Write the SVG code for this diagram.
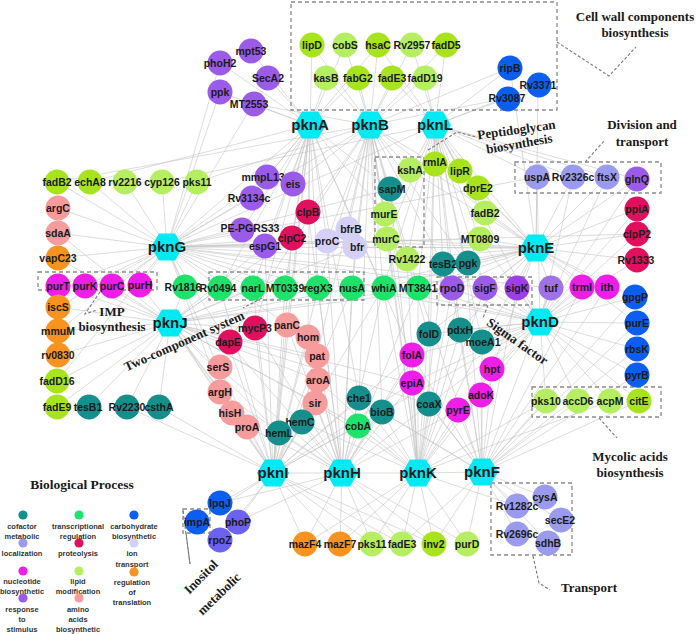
<svg xmlns="http://www.w3.org/2000/svg" width="696" height="634" viewBox="0 0 696 634">
<style>
.e{fill:none;stroke:#c4c4c4;stroke-width:0.7;stroke-opacity:0.85}
.box{fill:none;stroke:#8a8a8a;stroke-width:1.3;stroke-dasharray:4 3}
.ld{fill:none;stroke:#777;stroke-width:1.1;stroke-dasharray:3 2}
.t{font-family:"Liberation Sans",Arial,sans-serif;font-weight:bold;font-size:10.5px;fill:#1a1a1a;text-anchor:middle}
.h{font-family:"Liberation Sans",Arial,sans-serif;font-weight:bold;font-size:15px;fill:#1a1a1a;text-anchor:middle}
.lg{font-family:"Liberation Sans",Arial,sans-serif;font-weight:bold;font-size:7.5px;fill:#333;text-anchor:middle}
.an{font-family:"Liberation Serif","Times New Roman",serif;font-weight:bold;font-size:13px;fill:#1a1a1a;text-anchor:middle}
.cof{fill:#148f8c}.tr{fill:#1de36b}.carb{fill:#0b5ef0}.loc{fill:#9a9aee}.prot{fill:#e0105e}.ion{fill:#d4d0f8}
.nuc{fill:#ee1ee8}.lipA{fill:#a8e41e}.lipB{fill:#b6ee62}.rt{fill:#f7931e}.resp{fill:#9a5ce8}.resp2{fill:#9d3ee8}.respL{fill:#a072e8}.aa{fill:#f79c9c}.vio{fill:#6c62f0}
</style>
<defs>
<polygon id="hex" points="-16,0 -8,-13.5 8,-13.5 16,0 8,13.5 -8,13.5" fill="#00eaf4"/>
</defs>

<g id="connectors">
<path class="e" d="M310 125L220 63M310 125L251 51M310 125L220 92M310 125L268 78M310 125L253 104M310 125L312 45M310 125L345 45M310 125L326 78M310 125L358 78M310 125L378 45M310 125L267 177M310 125L293 184M310 125L250 198M310 125L308 212M310 125L242 230M310 125L265 246M310 125L292 238M310 125L327 241M310 125L253 288M310 125L285 288M310 125L318 288M310 125L390 189M310 125L385 214M310 125L287 325M310 125L255 328M310 125L308 337M310 125L359 398M310 125L167 247M310 125L273 473M310 125L90 182M310 125L220 288M310 125L412 355M310 125L383 288"/>
<path class="e" d="M370 125L312 45M370 125L345 45M370 125L378 45M370 125L412 45M370 125L446 45M370 125L326 78M370 125L358 78M370 125L392 78M370 125L425 78M370 125L410 170M370 125L390 189M370 125L385 214M370 125L387 239M370 125L435 164M370 125L466 263M370 125L443 264M370 125L383 288M370 125L418 288M370 125L308 212M370 125L327 241M370 125L355 247M370 125L348 229M370 125L293 184M370 125L510 68M370 125L508 98M370 125L167 247M370 125L536 248M370 125L352 288M370 125L318 288M370 125L228 342M370 125L317 356M370 125L359 398M370 125L382 412M370 125L428 334M370 125L412 383M370 125L57 182M370 125L197 182M370 125L253 104"/>
<path class="e" d="M435 125L446 45M435 125L412 45M435 125L425 78M435 125L392 78M435 125L378 45M435 125L510 68M435 125L538 85M435 125L508 98M435 125L435 164M435 125L460 171M435 125L478 188M435 125L485 213M435 125L480 239M435 125L410 170M435 125L537 177M435 125L573 177M435 125L466 263M435 125L485 288M435 125L452 288M435 125L443 264M435 125L407 259M435 125L387 239M435 125L383 288M435 125L536 248M435 125L540 322M435 125L428 334M435 125L460 330M435 125L482 342M435 125L429 404M435 125L418 288M435 125L637 179M435 125L607 177M435 125L162 182M435 125L167 247"/>
<path class="e" d="M167 247L57 182M167 247L90 182M167 247L125 182M167 247L162 182M167 247L197 182M167 247L58 208M167 247L58 233M167 247L58 258M167 247L58 286M167 247L85 286M167 247L112 286M167 247L140 285M167 247L185 287M167 247L220 288M167 247L58 307M167 247L250 198M167 247L242 230M167 247L265 246M167 247L267 177M167 247L292 238M167 247L327 241M167 247L253 288M167 247L285 288M167 247L220 63M167 247L220 92M167 247L253 104M167 247L218 367M167 247L228 342M167 247L220 392M167 247L383 288M167 247L390 189M167 247L407 259M167 247L485 288M167 247L551 288M167 247L536 248M167 247L637 234M167 247L537 177M167 247L480 239M167 247L58 331M167 247L57 381M167 247L318 288M167 247L308 337"/>
<path class="e" d="M170 323L58 331M170 323L58 355M170 323L57 381M170 323L57 407M170 323L88 407M170 323L127 407M170 323L159 407M170 323L58 307M170 323L58 286M170 323L85 286M170 323L112 286M170 323L140 285M170 323L185 287M170 323L220 288M170 323L58 258M170 323L58 233M170 323L253 288M170 323L228 342M170 323L218 367M170 323L220 392M170 323L230 413M170 323L255 328M170 323L247 427M170 323L279 433M170 323L318 288M170 323L352 288M170 323L315 403M170 323L317 356M170 323L318 380M170 323L265 246M170 323L292 238M170 323L355 247M170 323L418 288M170 323L452 288M170 323L412 383M170 323L273 473M170 323L358 426M170 323L429 404"/>
<path class="e" d="M536 248L537 177M536 248L573 177M536 248L607 177M536 248L637 179M536 248L637 209M536 248L637 234M536 248L637 260M536 248L478 188M536 248L485 213M536 248L480 239M536 248L466 263M536 248L460 171M536 248L551 288M536 248L517 288M536 248L485 288M536 248L582 287M536 248L607 287M536 248L452 288M536 248L443 264M536 248L418 288M536 248L383 288M536 248L635 297M536 248L407 259M536 248L387 239M536 248L428 334M536 248L460 330M536 248L482 342M536 248L492 369M536 248L538 85M536 248L510 68M536 248L327 241M536 248L355 247M536 248L352 288M536 248L637 323M536 248L410 170"/>
<path class="e" d="M540 322L635 297M540 322L637 323M540 322L637 349M540 322L637 375M540 322L546 401M540 322L578 401M540 322L610 401M540 322L639 401M540 322L551 288M540 322L582 287M540 322L607 287M540 322L517 288M540 322L485 288M540 322L452 288M540 322L637 260M540 322L637 234M540 322L637 209M540 322L482 342M540 322L492 369M540 322L481 395M540 322L460 330M540 322L428 334M540 322L412 383M540 322L458 410M540 322L537 177M540 322L573 177M540 322L607 177M540 322L637 179M540 322L418 288M540 322L429 404M540 322L382 412M540 322L383 288M540 322L352 288M540 322L412 355M540 322L480 239M540 322L466 263"/>
<path class="e" d="M273 473L220 503M273 473L197 522M273 473L237 522M273 473L220 540M273 473L305 544M273 473L340 544M273 473L372 544M273 473L402 544M273 473L434 544M273 473L279 433M273 473L302 422M273 473L247 427M273 473L230 413M273 473L315 403M273 473L318 380M273 473L220 392M273 473L218 367M273 473L228 342M273 473L255 328M273 473L287 325M273 473L317 356M273 473L308 337M273 473L359 398M273 473L358 426M273 473L159 407M273 473L127 407M273 473L352 288M273 473L318 288M273 473L285 288M273 473L253 288M273 473L220 288M273 473L292 238M273 473L265 246M273 473L382 412M273 473L412 355M273 473L412 383M273 473L383 288M273 473L342 473"/>
<path class="e" d="M342 473L305 544M342 473L340 544M342 473L372 544M342 473L402 544M342 473L434 544M342 473L467 544M342 473L358 426M342 473L359 398M342 473L382 412M342 473L302 422M342 473L279 433M342 473L315 403M342 473L318 380M342 473L317 356M342 473L308 337M342 473L287 325M342 473L247 427M342 473L412 383M342 473L412 355M342 473L429 404M342 473L220 503M342 473L237 522M342 473L383 288M342 473L352 288M342 473L318 288M342 473L418 288M342 473L255 328M342 473L228 342M342 473L220 392M342 473L218 367M342 473L428 334M342 473L458 410M342 473L308 212M342 473L327 241M342 473L355 247M342 473L418 473"/>
<path class="e" d="M418 473L467 544M418 473L434 544M418 473L402 544M418 473L372 544M418 473L340 544M418 473L305 544M418 473L358 426M418 473L382 412M418 473L359 398M418 473L429 404M418 473L412 383M418 473L412 355M418 473L428 334M418 473L458 410M418 473L481 395M418 473L492 369M418 473L482 342M418 473L460 330M418 473L302 422M418 473L315 403M418 473L318 380M418 473L452 288M418 473L485 288M418 473L443 264M418 473L466 263M418 473L407 259M418 473L418 288M418 473L383 288M418 473L546 401M418 473L610 401M418 473L387 239M418 473L385 214M418 473L390 189M418 473L517 506M418 473L482 472"/>
<path class="e" d="M482 472L517 506M482 472L545 497M482 472L560 520M482 472L517 534M482 472L548 543M482 472L467 544M482 472L434 544M482 472L458 410M482 472L481 395M482 472L492 369M482 472L482 342M482 472L429 404M482 472L412 383M482 472L412 355M482 472L546 401M482 472L578 401M482 472L639 401M482 472L637 349M482 472L637 375M482 472L637 323M482 472L517 288M482 472L551 288M482 472L452 288M482 472L460 330M482 472L418 288M482 472L382 412M482 472L466 263M482 472L582 287M482 472L607 287M482 472L635 297M482 472L402 544M482 472L359 398"/>
</g>

<g id="annotations">
<rect class="box" x="291" y="2" width="266" height="108"/>
<rect class="box" x="375" y="157" width="49" height="90"/>
<rect class="box" x="515" y="162" width="146" height="31"/>
<rect class="box" x="38" y="272" width="119" height="18"/>
<rect class="box" x="209" y="272" width="155" height="28"/>
<rect class="box" x="437" y="277" width="95" height="28"/>
<rect class="box" x="532" y="387" width="129" height="30"/>
<rect class="box" x="491" y="483" width="81" height="72"/>
<rect class="box" x="183" y="509" width="27" height="24"/>
<polyline class="ld" points="557,42 609,76 636,47"/>
<polyline class="ld" points="428,150 457,132 476,137"/>
<polyline class="ld" points="585,162 605,140"/>
<polyline class="ld" points="100,292 85,314 97,310"/>
<polyline class="ld" points="262,298 243,308"/>
<polyline class="ld" points="488,305 483,318"/>
<polyline class="ld" points="599,418 617,438"/>
<polyline class="ld" points="533,556 539,583 550,590"/>
<polyline class="ld" points="183,511 190,564"/>
<polyline class="ld" points="186,533 190,564"/>
<text class="an" x="635" y="21">Cell wall components</text>
<text class="an" x="635" y="37">biosynthesis</text>
<text class="an" transform="translate(517,134) rotate(-8)">Peptidoglycan</text>
<text class="an" transform="translate(520,148) rotate(-10)">biosynthesis</text>
<text class="an" x="642" y="129">Division and</text>
<text class="an" x="642" y="146">transport</text>
<text class="an" x="112" y="316">IMP</text>
<text class="an" x="112" y="331">biosynthesis</text>
<text class="an" transform="translate(186,345) rotate(-24)">Two-component system</text>
<text class="an" transform="translate(515,345) rotate(35)">Sigma factor</text>
<text class="an" x="630" y="461">Mycolic acids</text>
<text class="an" x="630" y="477">biosynthesis</text>
<text class="an" x="589" y="592">Transport</text>
<text class="an" transform="translate(204,580) rotate(-45)">Inositol</text>
<text class="an" transform="translate(222,597) rotate(-44)">metabolic</text>
</g>

<g id="legend">
<text class="an" x="82" y="489" style="font-size:13.5px">Biological Process</text>
<circle class="cof" cx="23" cy="515" r="4.6"/><text class="lg" x="22" y="528.5">cofactor</text><text class="lg" x="22" y="539">metabolic</text>
<circle class="tr" cx="79" cy="515" r="4.6"/><text class="lg" x="78" y="528.5">transcriptional</text><text class="lg" x="78" y="539">regulation</text>
<circle class="carb" cx="134" cy="515" r="4.6"/><text class="lg" x="134" y="528.5">carbohydrate</text><text class="lg" x="134" y="539">biosynthetic</text>
<circle class="loc" cx="23" cy="543" r="4.6"/><text class="lg" x="22" y="556">localization</text>
<circle class="prot" cx="79" cy="543" r="4.6"/><text class="lg" x="78" y="556">proteolysis</text>
<circle class="ion" cx="134" cy="543" r="4.6"/><text class="lg" x="132" y="556">ion</text><text class="lg" x="132" y="567">transport</text>
<circle class="nuc" cx="23" cy="571" r="4.6"/><text class="lg" x="22" y="583.5">nucleotide</text><text class="lg" x="22" y="594">biosynthetic</text>
<circle class="lipB" cx="79" cy="571" r="4.6"/><text class="lg" x="78" y="583.5">lipid</text><text class="lg" x="78" y="594">modification</text>
<circle class="rt" cx="134" cy="572" r="4.6"/><text class="lg" x="132" y="584.5">regulation</text><text class="lg" x="132" y="595">of</text><text class="lg" x="132" y="605">translation</text>
<circle class="resp" cx="23" cy="598" r="4.6"/><text class="lg" x="22" y="612">response</text><text class="lg" x="22" y="622">to</text><text class="lg" x="22" y="632">stimulus</text>
<circle class="aa" cx="79" cy="598" r="4.6"/><text class="lg" x="78" y="612">amino</text><text class="lg" x="78" y="622">acids</text><text class="lg" x="78" y="632">biosynthetic</text>
</g>

<g id="nodes">
<g id="n-phoH2"><circle class="resp" cx="220" cy="63" r="12.5"/><text class="t" x="220" y="67">phoH2</text></g>
<g id="n-mpt53"><circle class="resp" cx="251" cy="51" r="12.5"/><text class="t" x="251" y="55">mpt53</text></g>
<g id="n-ppk"><circle class="resp" cx="220" cy="92" r="12.5"/><text class="t" x="220" y="96">ppk</text></g>
<g id="n-SecA2"><circle class="resp" cx="268" cy="78" r="12.5"/><text class="t" x="268" y="82">SecA2</text></g>
<g id="n-MT2553"><circle class="resp" cx="254" cy="104" r="12.5"/><text class="t" x="249" y="108">MT2553</text></g>
<g id="n-lipD"><circle class="lipA" cx="312" cy="45" r="12.5"/><text class="t" x="312" y="49">lipD</text></g>
<g id="n-cobS"><circle class="lipB" cx="345" cy="45" r="12.5"/><text class="t" x="345" y="49">cobS</text></g>
<g id="n-hsaC"><circle class="lipA" cx="378" cy="45" r="12.5"/><text class="t" x="378" y="49">hsaC</text></g>
<g id="n-Rv2957"><circle class="lipB" cx="412" cy="45" r="12.5"/><text class="t" x="412" y="49">Rv2957</text></g>
<g id="n-fadD5"><circle class="lipA" cx="446" cy="45" r="12.5"/><text class="t" x="446" y="49">fadD5</text></g>
<g id="n-kasB"><circle class="lipB" cx="326" cy="78" r="12.5"/><text class="t" x="326" y="82">kasB</text></g>
<g id="n-fabG2"><circle class="lipA" cx="358" cy="78" r="12.5"/><text class="t" x="358" y="82">fabG2</text></g>
<g id="n-fadE3"><circle class="lipA" cx="392" cy="78" r="12.5"/><text class="t" x="392" y="82">fadE3</text></g>
<g id="n-fadD19"><circle class="lipB" cx="425" cy="78" r="12.5"/><text class="t" x="425" y="82">fadD19</text></g>
<g id="n-ripB"><circle class="carb" cx="510" cy="68" r="12.5"/><text class="t" x="510" y="72">ripB</text></g>
<g id="n-Rv3371"><circle class="carb" cx="539" cy="85" r="12.5"/><text class="t" x="538" y="89">Rv3371</text></g>
<g id="n-Rv3087"><circle class="carb" cx="508" cy="99" r="12.5"/><text class="t" x="507" y="102">Rv3087</text></g>

<g id="n-fadB2"><circle class="lipA" cx="57" cy="182" r="12.5"/><text class="t" x="57" y="186">fadB2</text></g>
<g id="n-echA8"><circle class="lipA" cx="90" cy="182" r="12.5"/><text class="t" x="90" y="186">echA8</text></g>
<g id="n-rv2216"><circle class="lipB" cx="125" cy="182" r="12.5"/><text class="t" x="125" y="186">rv2216</text></g>
<g id="n-cyp126"><circle class="lipB" cx="162" cy="182" r="12.5"/><text class="t" x="162" y="186">cyp126</text></g>
<g id="n-pks11"><circle class="lipB" cx="197" cy="182" r="12.5"/><text class="t" x="197" y="186">pks11</text></g>
<g id="n-argC"><circle class="aa" cx="58" cy="208" r="12.5"/><text class="t" x="58" y="212">argC</text></g>
<g id="n-sdaA"><circle class="aa" cx="58" cy="233" r="12.5"/><text class="t" x="58" y="237">sdaA</text></g>
<g id="n-vapC23"><circle class="rt" cx="58" cy="258" r="12.5"/><text class="t" x="58" y="262">vapC23</text></g>
<g id="n-purT"><circle class="nuc" cx="58" cy="286" r="12.5"/><text class="t" x="58" y="290">purT</text></g>
<g id="n-purK"><circle class="nuc" cx="85" cy="286" r="12.5"/><text class="t" x="85" y="290">purK</text></g>
<g id="n-purC"><circle class="nuc" cx="112" cy="286" r="12.5"/><text class="t" x="112" y="290">purC</text></g>
<g id="n-purH"><circle class="nuc" cx="140" cy="285" r="12.5"/><text class="t" x="140" y="289">purH</text></g>
<g id="n-iscS"><circle class="rt" cx="58" cy="307" r="12.5"/><text class="t" x="58" y="311">iscS</text></g>
<g id="n-mmuM"><circle class="rt" cx="58" cy="331" r="12.5"/><text class="t" x="58" y="335">mmuM</text></g>
<g id="n-rv0830"><circle class="rt" cx="58" cy="355" r="12.5"/><text class="t" x="58" y="359">rv0830</text></g>
<g id="n-fadD16"><circle class="lipA" cx="57" cy="381" r="12.5"/><text class="t" x="57" y="385">fadD16</text></g>
<g id="n-fadE9"><circle class="lipA" cx="57" cy="407" r="12.5"/><text class="t" x="57" y="411">fadE9</text></g>
<g id="n-tesB1"><circle class="cof" cx="89" cy="407" r="12.5"/><text class="t" x="88" y="411">tesB1</text></g>
<g id="n-Rv2230"><circle class="cof" cx="127" cy="407" r="12.5"/><text class="t" x="127" y="411">Rv2230</text></g>
<g id="n-csthA"><circle class="cof" cx="159" cy="407" r="12.5"/><text class="t" x="159" y="411">csthA</text></g>
<g id="n-Rv1816"><circle class="tr" cx="185" cy="287" r="12.5"/><text class="t" x="183" y="291">Rv1816</text></g>
<g id="n-Rv0494"><circle class="tr" cx="220" cy="288" r="12.5"/><text class="t" x="218" y="292">Rv0494</text></g>

<g id="n-mmpL13"><circle class="resp" cx="267" cy="177" r="12.5"/><text class="t" x="263" y="181">mmpL13</text></g>
<g id="n-eis"><circle class="resp" cx="293" cy="184" r="12.5"/><text class="t" x="293" y="188">eis</text></g>
<g id="n-Rv3134c"><circle class="resp" cx="252" cy="198" r="12.5"/><text class="t" x="249" y="202">Rv3134c</text></g>
<g id="n-clpB"><circle class="prot" cx="308" cy="212" r="12.5"/><text class="t" x="308" y="216">clpB</text></g>
<g id="n-PE-PGRS33"><circle class="resp" cx="242" cy="230" r="12.5"/><text class="t" x="250" y="232">PE-PGRS33</text></g>
<g id="n-clpC2"><circle class="prot" cx="292" cy="238" r="12.5"/><text class="t" x="292" y="242">clpC2</text></g>
<g id="n-espG1"><circle class="resp" cx="265" cy="246" r="12.5"/><text class="t" x="265" y="250">espG1</text></g>
<g id="n-proC"><circle class="ion" cx="327" cy="241" r="12.5"/><text class="t" x="327" y="245">proC</text></g>
<g id="n-bfrB"><circle class="ion" cx="348" cy="229" r="12.5"/><text class="t" x="351" y="233">bfrB</text></g>
<g id="n-bfr"><circle class="ion" cx="355" cy="247" r="12.5"/><text class="t" x="357" y="251">bfr</text></g>

<g id="n-kshA"><circle class="lipB" cx="410" cy="170" r="12.5"/><text class="t" x="410" y="174">kshA</text></g>
<g id="n-rmlA"><circle class="lipA" cx="435" cy="164" r="12.5"/><text class="t" x="435" y="166">rmlA</text></g>
<g id="n-lipR"><circle class="lipA" cx="460" cy="171" r="12.5"/><text class="t" x="460" y="175">lipR</text></g>
<g id="n-sapM"><circle class="cof" cx="390" cy="189" r="12.5"/><text class="t" x="392" y="193">sapM</text></g>
<g id="n-murE"><circle class="lipB" cx="385" cy="214" r="12.5"/><text class="t" x="384" y="218">murE</text></g>
<g id="n-murC"><circle class="lipB" cx="387" cy="239" r="12.5"/><text class="t" x="386" y="243">murC</text></g>
<g id="n-Rv1422"><circle class="lipB" cx="407" cy="259" r="12.5"/><text class="t" x="407" y="263">Rv1422</text></g>
<g id="n-dprE2"><circle class="lipA" cx="478" cy="188" r="12.5"/><text class="t" x="478" y="192">dprE2</text></g>
<g id="n-fadB2r"><circle class="lipB" cx="485" cy="213" r="12.5"/><text class="t" x="485" y="217">fadB2</text></g>
<g id="n-MT0809"><circle class="lipB" cx="480" cy="239" r="12.5"/><text class="t" x="480" y="243">MT0809</text></g>
<g id="n-tesB2"><circle class="cof" cx="443" cy="264" r="12.5"/><text class="t" x="443" y="268">tesB2</text></g>
<g id="n-pgk"><circle class="cof" cx="468" cy="263" r="12.5"/><text class="t" x="468" y="267">pgk</text></g>

<g id="n-narL"><circle class="tr" cx="253" cy="288" r="12.5"/><text class="t" x="253" y="292">narL</text></g>
<g id="n-MT0339"><circle class="tr" cx="285" cy="288" r="12.5"/><text class="t" x="285" y="292">MT0339</text></g>
<g id="n-regX3"><circle class="tr" cx="318" cy="288" r="12.5"/><text class="t" x="318" y="292">regX3</text></g>
<g id="n-nusA"><circle class="tr" cx="352" cy="288" r="12.5"/><text class="t" x="352" y="292">nusA</text></g>
<g id="n-whiA"><circle class="tr" cx="384" cy="288" r="12.5"/><text class="t" x="384" y="292">whiA</text></g>
<g id="n-MT3841"><circle class="tr" cx="418" cy="288" r="12.5"/><text class="t" x="418" y="292">MT3841</text></g>
<g id="n-rpoD"><circle class="resp" cx="452" cy="288" r="12.5"/><text class="t" x="452" y="292">rpoD</text></g>
<g id="n-sigF"><circle class="resp" cx="485" cy="288" r="12.5"/><text class="t" x="485" y="292">sigF</text></g>
<g id="n-sigK"><circle class="resp2" cx="517" cy="288" r="12.5"/><text class="t" x="517" y="292">sigK</text></g>
<g id="n-tuf"><circle class="respL" cx="551" cy="288" r="12.5"/><text class="t" x="551" y="292">tuf</text></g>
<g id="n-trmI"><circle class="nuc" cx="582" cy="287" r="12.5"/><text class="t" x="582" y="291">trmI</text></g>
<g id="n-ith"><circle class="nuc" cx="607" cy="287" r="12.5"/><text class="t" x="607" y="291">ith</text></g>

<g id="n-uspA"><circle class="loc" cx="537" cy="177" r="12.5"/><text class="t" x="537" y="181">uspA</text></g>
<g id="n-Rv2326c"><circle class="loc" cx="573" cy="177" r="12.5"/><text class="t" x="573" y="181">Rv2326c</text></g>
<g id="n-ftsX"><circle class="loc" cx="607" cy="177" r="12.5"/><text class="t" x="607" y="181">ftsX</text></g>
<g id="n-glnQ"><circle class="resp" cx="637" cy="179" r="12.5"/><text class="t" x="637" y="183">glnQ</text></g>
<g id="n-ppiA"><circle class="prot" cx="637" cy="209" r="12.5"/><text class="t" x="637" y="213">ppiA</text></g>
<g id="n-clpP2"><circle class="prot" cx="637" cy="234" r="12.5"/><text class="t" x="637" y="238">clpP2</text></g>
<g id="n-Rv1333"><circle class="prot" cx="637" cy="260" r="12.5"/><text class="t" x="636" y="264">Rv1333</text></g>
<g id="n-gpgP"><circle class="carb" cx="635" cy="297" r="12.5"/><text class="t" x="635" y="301">gpgP</text></g>
<g id="n-purE"><circle class="carb" cx="637" cy="323" r="12.5"/><text class="t" x="637" y="327">purE</text></g>
<g id="n-rbsK"><circle class="carb" cx="637" cy="349" r="12.5"/><text class="t" x="637" y="353">rbsK</text></g>
<g id="n-pyrB"><circle class="carb" cx="637" cy="375" r="12.5"/><text class="t" x="637" y="379">pyrB</text></g>
<g id="n-pks10"><circle class="lipB" cx="546" cy="401" r="12.5"/><text class="t" x="546" y="405">pks10</text></g>
<g id="n-accD6"><circle class="lipB" cx="578" cy="401" r="12.5"/><text class="t" x="578" y="405">accD6</text></g>
<g id="n-acpM"><circle class="lipB" cx="610" cy="401" r="12.5"/><text class="t" x="610" y="405">acpM</text></g>
<g id="n-citE"><circle class="lipA" cx="639" cy="401" r="12.5"/><text class="t" x="639" y="405">citE</text></g>

<g id="n-dapE"><circle class="prot" cx="230" cy="342" r="12.5"/><text class="t" x="228" y="346">dapE</text></g>
<g id="n-mycP3"><circle class="prot" cx="255" cy="328" r="12.5"/><text class="t" x="255" y="332">mycP3</text></g>
<g id="n-panC"><circle class="aa" cx="287" cy="325" r="12.5"/><text class="t" x="287" y="329">panC</text></g>
<g id="n-hom"><circle class="aa" cx="308" cy="337" r="12.5"/><text class="t" x="308" y="341">hom</text></g>
<g id="n-pat"><circle class="aa" cx="317" cy="356" r="12.5"/><text class="t" x="317" y="360">pat</text></g>
<g id="n-aroA"><circle class="aa" cx="318" cy="380" r="12.5"/><text class="t" x="318" y="384">aroA</text></g>
<g id="n-sir"><circle class="aa" cx="315" cy="403" r="12.5"/><text class="t" x="315" y="407">sir</text></g>
<g id="n-serS"><circle class="aa" cx="220" cy="367" r="12.5"/><text class="t" x="218" y="371">serS</text></g>
<g id="n-argH"><circle class="aa" cx="220" cy="392" r="12.5"/><text class="t" x="220" y="396">argH</text></g>
<g id="n-hisH"><circle class="aa" cx="232" cy="413" r="12.5"/><text class="t" x="230" y="417">hisH</text></g>
<g id="n-proA"><circle class="aa" cx="247" cy="427" r="12.5"/><text class="t" x="247" y="431">proA</text></g>
<g id="n-hemC"><circle class="cof" cx="302" cy="422" r="12.5"/><text class="t" x="300" y="426">hemC</text></g>
<g id="n-hemL"><circle class="cof" cx="279" cy="433" r="12.5"/><text class="t" x="279" y="437">hemL</text></g>
<g id="n-che1"><circle class="cof" cx="359" cy="398" r="12.5"/><text class="t" x="359" y="402">che1</text></g>
<g id="n-bioB"><circle class="cof" cx="382" cy="412" r="12.5"/><text class="t" x="382" y="416">bioB</text></g>
<g id="n-cobA"><circle class="tr" cx="358" cy="426" r="12.5"/><text class="t" x="358" y="430">cobA</text></g>
<g id="n-folD"><circle class="cof" cx="429" cy="334" r="12.5"/><text class="t" x="429" y="338">folD</text></g>
<g id="n-pdxH"><circle class="cof" cx="460" cy="330" r="12.5"/><text class="t" x="460" y="334">pdxH</text></g>
<g id="n-moeA1"><circle class="cof" cx="482" cy="342" r="12.5"/><text class="t" x="483" y="346">moeA1</text></g>
<g id="n-folA"><circle class="nuc" cx="412" cy="355" r="12.5"/><text class="t" x="412" y="359">folA</text></g>
<g id="n-epiA"><circle class="nuc" cx="412" cy="383" r="12.5"/><text class="t" x="412" y="387">epiA</text></g>
<g id="n-hpt"><circle class="nuc" cx="492" cy="369" r="12.5"/><text class="t" x="492" y="373">hpt</text></g>
<g id="n-adoK"><circle class="nuc" cx="481" cy="395" r="12.5"/><text class="t" x="481" y="399">adoK</text></g>
<g id="n-coaX"><circle class="cof" cx="429" cy="404" r="12.5"/><text class="t" x="429" y="408">coaX</text></g>
<g id="n-pyrE"><circle class="nuc" cx="458" cy="410" r="12.5"/><text class="t" x="458" y="414">pyrE</text></g>

<g id="n-lpqJ"><circle class="carb" cx="220" cy="503" r="12.5"/><text class="t" x="220" y="507">lpqJ</text></g>
<g id="n-impA"><circle class="carb" cx="197" cy="522" r="12.5"/><text class="t" x="197" y="526">impA</text></g>
<g id="n-phoP"><circle class="vio" cx="238" cy="522" r="12.5"/><text class="t" x="238" y="526">phoP</text></g>
<g id="n-rpoZ"><circle class="vio" cx="220" cy="540" r="12.5"/><text class="t" x="220" y="544">rpoZ</text></g>
<g id="n-mazF4"><circle class="rt" cx="305" cy="544" r="12.5"/><text class="t" x="305" y="548">mazF4</text></g>
<g id="n-mazF7"><circle class="rt" cx="340" cy="544" r="12.5"/><text class="t" x="340" y="548">mazF7</text></g>
<g id="n-pks11b"><circle class="lipB" cx="372" cy="544" r="12.5"/><text class="t" x="372" y="548">pks11</text></g>
<g id="n-fadE3b"><circle class="lipB" cx="402" cy="544" r="12.5"/><text class="t" x="402" y="548">fadE3</text></g>
<g id="n-inv2"><circle class="lipA" cx="434" cy="544" r="12.5"/><text class="t" x="434" y="548">inv2</text></g>
<g id="n-purD"><circle class="lipB" cx="467" cy="544" r="12.5"/><text class="t" x="467" y="548">purD</text></g>
<g id="n-cysA"><circle class="loc" cx="545" cy="497" r="12.5"/><text class="t" x="545" y="501">cysA</text></g>
<g id="n-Rv1282c"><circle class="loc" cx="517" cy="506" r="12.5"/><text class="t" x="517" y="510">Rv1282c</text></g>
<g id="n-secE2"><circle class="loc" cx="561" cy="520" r="12.5"/><text class="t" x="560" y="524">secE2</text></g>
<g id="n-Rv2696c"><circle class="loc" cx="517" cy="534" r="12.5"/><text class="t" x="517" y="538">Rv2696c</text></g>
<g id="n-sdhB"><circle class="loc" cx="548" cy="543" r="12.5"/><text class="t" x="548" y="547">sdhB</text></g>

<g id="n-pknA"><use href="#hex" x="310" y="125"/><text class="h" x="310" y="130">pknA</text></g>
<g id="n-pknB"><use href="#hex" x="370" y="125"/><text class="h" x="370" y="130">pknB</text></g>
<g id="n-pknL"><use href="#hex" x="435" y="125"/><text class="h" x="435" y="130">pknL</text></g>
<g id="n-pknG"><use href="#hex" x="167" y="247"/><text class="h" x="167" y="252">pknG</text></g>
<g id="n-pknJ"><use href="#hex" x="170" y="323"/><text class="h" x="170" y="328">pknJ</text></g>
<g id="n-pknE"><use href="#hex" x="536" y="248"/><text class="h" x="536" y="253">pknE</text></g>
<g id="n-pknD"><use href="#hex" x="540" y="322"/><text class="h" x="540" y="327">pknD</text></g>
<g id="n-pknI"><use href="#hex" x="273" y="473"/><text class="h" x="273" y="478">pknI</text></g>
<g id="n-pknH"><use href="#hex" x="342" y="473"/><text class="h" x="342" y="478">pknH</text></g>
<g id="n-pknK"><use href="#hex" x="418" y="473"/><text class="h" x="418" y="478">pknK</text></g>
<g id="n-pknF"><use href="#hex" x="482" y="472"/><text class="h" x="482" y="477">pknF</text></g>
</g>
</svg>
